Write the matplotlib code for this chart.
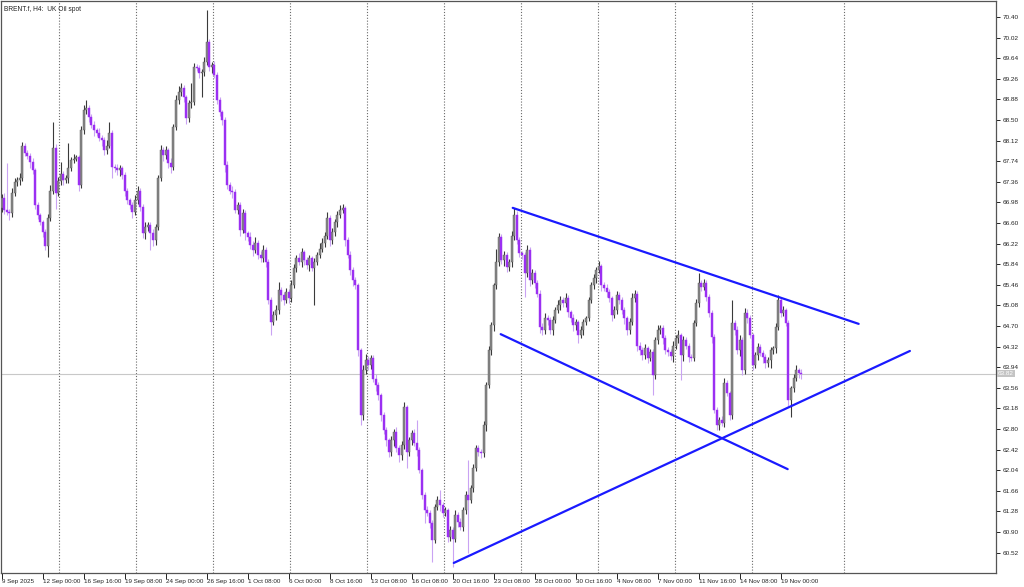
import matplotlib
matplotlib.use('Agg')
import matplotlib.pyplot as plt
import numpy as np

# ---------------- data (BRENT.f H4) ----------------
first_open = 66.87
closes = [
    67.06, 66.84, 66.80, 66.78, 67.15, 67.35, 67.39, 67.43, 68.03, 67.89,
    67.83, 67.72, 67.57, 66.93, 66.74, 66.61, 66.43, 66.17, 66.69, 67.20,
    67.99, 67.15, 67.37, 67.50, 67.39, 67.43, 67.61, 67.76, 67.79, 67.81,
    67.30, 68.31, 68.68, 68.72, 68.55, 68.40, 68.31, 68.26, 68.16, 68.13,
    67.94, 68.03, 68.26, 67.63, 67.61, 67.57, 67.61, 67.48, 67.20, 67.02,
    66.93, 66.80, 67.02, 67.20, 66.89, 66.41, 66.52, 66.56, 66.41, 66.28,
    66.52, 67.44, 67.94, 67.85, 67.94, 67.70, 67.63, 68.37, 68.87, 69.01,
    69.09, 68.92, 68.53, 68.81, 68.83, 69.47, 69.46, 69.36, 69.38, 69.57,
    69.94, 69.47, 69.51, 69.33, 68.87, 68.64, 68.50, 67.67, 67.30, 67.20,
    67.17, 66.84, 66.93, 66.47, 66.78, 66.41, 66.34, 66.19, 66.10, 66.24,
    66.01, 65.95, 66.10, 65.88, 65.18, 64.77, 64.90, 64.99, 65.36, 65.27,
    65.18, 65.32, 65.21, 65.45, 65.77, 65.95, 65.88, 66.06, 65.91, 65.82,
    65.95, 65.77, 65.88, 66.01, 66.13, 66.24, 66.37, 66.69, 66.28, 66.43,
    66.61, 66.74, 66.84, 66.87, 66.28, 66.01, 65.73, 65.54, 65.45, 64.25,
    63.05, 63.88, 64.07, 63.98, 64.11, 63.73, 63.61, 63.42, 63.05, 62.78,
    62.59, 62.37, 62.59, 62.74, 62.45, 62.32, 62.50, 63.20, 62.37, 62.59,
    62.72, 62.54, 62.41, 62.04, 61.58, 61.30, 61.26, 61.06, 60.75, 61.36,
    61.49, 61.39, 61.26, 61.30, 60.80, 60.93, 60.78, 61.21, 61.08, 60.99,
    61.30, 61.58, 61.49, 61.71, 62.08, 62.45, 62.37, 62.35, 62.87, 63.61,
    64.25, 64.71, 65.45, 65.88, 66.34, 65.91, 66.01, 65.78, 65.88, 66.37,
    66.74, 66.28, 66.04, 66.01, 65.67, 66.10, 65.54, 65.67, 65.49, 65.30,
    64.68, 64.62, 64.84, 64.81, 64.62, 64.81, 64.99, 65.08, 65.18, 65.12,
    65.21, 64.95, 64.84, 64.71, 64.77, 64.53, 64.62, 64.77, 64.84, 65.18,
    65.45, 65.58, 65.73, 65.80, 65.45, 65.40, 65.32, 65.21, 64.90, 64.99,
    65.27, 65.18, 64.99, 64.84, 64.62, 64.77, 65.21, 65.30, 64.34, 64.25,
    64.16, 64.29, 64.11, 64.22, 63.79, 64.44, 64.62, 64.66, 64.47, 64.25,
    64.22, 64.14, 64.34, 64.47, 64.53, 64.16, 64.44, 64.34, 64.12, 64.11,
    64.75, 65.12, 65.49, 65.42, 65.49, 65.23, 64.94, 64.49, 63.15, 62.87,
    62.96, 62.92, 63.64, 63.46, 63.05, 64.75, 64.62, 64.25, 64.44, 63.88,
    64.94, 64.84, 64.53, 63.98, 64.16, 64.31, 64.20, 64.12, 64.01, 64.07,
    64.25, 64.29, 64.68, 65.18, 64.94, 64.99, 64.75, 63.33, 63.55, 63.75,
    63.88, 63.83, 63.82,
]
wick_up = [
    0.08, 0.10, 0.86, 0.05, 0.10, 0.08, 0.06, 0.10, 0.06, 0.05,
    0.05, 0.06, 0.08, 0.05, 0.06, 0.05, 0.05, 0.06, 0.08, 0.10,
    0.47, 0.06, 0.08, 0.22, 0.06, 0.05, 0.46, 0.06, 0.08, 0.05,
    0.05, 0.08, 0.10, 0.15, 0.06, 0.06, 0.08, 0.05, 0.10, 0.06,
    0.06, 0.10, 0.20, 0.06, 0.05, 0.08, 0.06, 0.05, 0.06, 0.05,
    0.05, 0.06, 0.10, 0.08, 0.05, 0.06, 0.10, 0.06, 0.05, 0.08,
    0.06, 0.05, 0.10, 0.06, 0.08, 0.05, 0.10, 0.06, 0.10, 0.12,
    0.10, 0.06, 0.05, 0.06, 0.35, 0.08, 0.06, 0.05, 0.06, 0.10,
    0.59, 0.05, 0.06, 0.08, 0.05, 0.06, 0.05, 0.06, 0.08, 0.06,
    0.08, 0.05, 0.06, 0.05, 0.08, 0.06, 0.05, 0.10, 0.08, 0.10,
    0.05, 0.08, 0.10, 0.06, 0.05, 0.06, 0.08, 0.10, 0.15, 0.06,
    0.05, 0.08, 0.06, 0.10, 0.08, 0.06, 0.10, 0.08, 0.05, 0.06,
    0.06, 0.05, 0.08, 0.06, 0.10, 0.08, 0.06, 0.12, 0.06, 0.08,
    0.06, 0.08, 0.10, 0.08, 0.05, 0.06, 0.08, 0.05, 0.06, 0.05,
    0.05, 0.10, 0.12, 0.08, 0.06, 0.05, 0.08, 0.06, 0.05, 0.06,
    0.06, 0.05, 0.08, 0.06, 0.10, 0.06, 0.08, 0.09, 0.05, 0.06,
    0.06, 0.08, 0.42, 0.06, 0.05, 0.06, 0.08, 0.05, 0.06, 0.06,
    0.08, 0.18, 0.06, 0.06, 0.05, 0.08, 0.06, 0.10, 0.06, 0.08,
    0.06, 0.08, 0.65, 0.06, 0.08, 0.06, 0.05, 0.06, 0.08, 0.06,
    0.08, 0.06, 0.05, 0.25, 0.08, 0.06, 0.08, 0.06, 0.05, 0.08,
    0.13, 0.08, 0.06, 0.05, 0.06, 0.10, 0.06, 0.08, 0.06, 0.05,
    0.06, 0.08, 0.10, 0.06, 0.05, 0.08, 0.06, 0.10, 0.08, 0.06,
    0.10, 0.06, 0.05, 0.08, 0.06, 0.05, 0.08, 0.06, 0.05, 0.06,
    0.06, 0.08, 0.06, 0.10, 0.05, 0.06, 0.08, 0.06, 0.05, 0.08,
    0.08, 0.06, 0.05, 0.06, 0.05, 0.08, 0.10, 0.06, 0.05, 0.06,
    0.06, 0.08, 0.05, 0.06, 0.05, 0.06, 0.10, 0.06, 0.05, 0.06,
    0.06, 0.05, 0.08, 0.06, 0.10, 0.05, 0.08, 0.06, 0.05, 0.06,
    0.06, 0.08, 0.18, 0.06, 0.08, 0.05, 0.06, 0.05, 0.06, 0.05,
    0.06, 0.08, 0.11, 0.06, 0.05, 0.43, 0.06, 0.08, 0.10, 0.06,
    0.10, 0.08, 0.06, 0.05, 0.06, 0.08, 0.06, 0.05, 0.06, 0.05,
    0.06, 0.05, 0.08, 0.09, 0.06, 0.08, 0.05, 0.06, 0.05, 0.06,
    0.10, 0.05, 0.08,
]
wick_dn = [
    0.06, 0.08, 0.05, 0.13, 0.06, 0.05, 0.06, 0.08, 0.05, 0.06,
    0.05, 0.10, 0.06, 0.08, 0.06, 0.05, 0.08, 0.07, 0.20, 0.06,
    0.06, 0.30, 0.06, 0.06, 0.08, 0.06, 0.10, 0.05, 0.06, 0.05,
    0.10, 0.05, 0.06, 0.06, 0.08, 0.05, 0.10, 0.06, 0.05, 0.10,
    0.08, 0.06, 0.05, 0.20, 0.06, 0.08, 0.10, 0.06, 0.10, 0.06,
    0.08, 0.10, 0.05, 0.06, 0.06, 0.08, 0.10, 0.06, 0.30, 0.10,
    0.08, 0.05, 0.06, 0.10, 0.06, 0.08, 0.10, 0.05, 0.06, 0.08,
    0.06, 0.08, 0.10, 0.06, 0.08, 0.05, 0.06, 0.08, 0.44, 0.06,
    0.06, 0.06, 0.10, 0.06, 0.08, 0.06, 0.10, 0.12, 0.08, 0.06,
    0.10, 0.06, 0.08, 0.10, 0.06, 0.12, 0.08, 0.06, 0.10, 0.06,
    0.08, 0.06, 0.06, 0.10, 0.08, 0.24, 0.06, 0.08, 0.06, 0.10,
    0.10, 0.06, 0.08, 0.06, 0.05, 0.08, 0.06, 0.10, 0.08, 0.06,
    0.10, 0.06, 0.69, 0.06, 0.05, 0.06, 0.08, 0.06, 0.10, 0.06,
    0.06, 0.08, 0.05, 0.06, 0.10, 0.06, 0.08, 0.10, 0.06, 0.10,
    0.18, 0.08, 0.06, 0.10, 0.08, 0.06, 0.10, 0.08, 0.10, 0.08,
    0.10, 0.08, 0.06, 0.10, 0.08, 0.12, 0.10, 0.06, 0.29, 0.06,
    0.08, 0.06, 0.10, 0.06, 0.08, 0.24, 0.06, 0.08, 0.41, 0.06,
    0.06, 0.10, 0.08, 0.06, 0.08, 0.06, 0.53, 0.06, 0.08, 0.06,
    0.08, 0.06, 0.98, 0.06, 0.08, 0.06, 0.06, 0.08, 0.06, 0.10,
    0.06, 0.08, 0.10, 0.06, 0.08, 0.06, 0.10, 0.08, 0.06, 0.10,
    0.08, 0.06, 0.06, 0.08, 0.44, 0.06, 0.10, 0.06, 0.08, 0.06,
    0.10, 0.08, 0.06, 0.10, 0.06, 0.08, 0.06, 0.05, 0.08, 0.06,
    0.06, 0.08, 0.06, 0.10, 0.08, 0.15, 0.06, 0.08, 0.06, 0.05,
    0.05, 0.06, 0.08, 0.06, 0.10, 0.06, 0.08, 0.06, 0.10, 0.06,
    0.06, 0.08, 0.06, 0.10, 0.08, 0.06, 0.05, 0.06, 0.10, 0.08,
    0.08, 0.06, 0.10, 0.06, 0.37, 0.06, 0.08, 0.06, 0.10, 0.06,
    0.08, 0.06, 0.10, 0.06, 0.08, 0.46, 0.10, 0.06, 0.08, 0.06,
    0.06, 0.05, 0.06, 0.08, 0.06, 0.06, 0.08, 0.10, 0.06, 0.08,
    0.09, 0.06, 0.08, 0.06, 0.08, 0.06, 0.08, 0.06, 0.10, 0.08,
    0.06, 0.08, 0.06, 0.10, 0.06, 0.08, 0.06, 0.10, 0.08, 0.06,
    0.14, 0.06, 0.08, 0.06, 0.08, 0.06, 0.05, 0.10, 0.31, 0.06,
    0.06, 0.08, 0.10,
]

time_labels = ['9 Sep 2025', '12 Sep 00:00', '16 Sep 16:00', '19 Sep 08:00',
               '24 Sep 00:00', '26 Sep 16:00', '1 Oct 08:00', '6 Oct 00:00',
               '8 Oct 16:00', '13 Oct 08:00', '16 Oct 08:00', '20 Oct 16:00',
               '23 Oct 08:00', '28 Oct 00:00', '30 Oct 16:00', '4 Nov 08:00',
               '7 Nov 00:00', '11 Nov 16:00', '14 Nov 08:00', '19 Nov 00:00']
time_label_bars = [0, 16, 32, 48, 64, 80, 96, 112, 128, 144, 160, 176, 192,
                   208, 224, 240, 256, 272, 288, 304]
grid_bars = [22.2, 52.3, 82.3, 112.4, 142.4, 172.5, 202.5, 232.6, 262.6, 292.7, 328.6]
price_ticks = [60.52, 60.90, 61.28, 61.66, 62.04, 62.42, 62.80, 63.18, 63.56,
               63.94, 64.32, 64.70, 65.08, 65.46, 65.84, 66.22, 66.60, 66.98,
               67.36, 67.74, 68.12, 68.50, 68.88, 69.26, 69.64, 70.02, 70.40]
last_price = 63.82

# trend lines (bar index, price)
upper_line_x, upper_line_y = [199.4, 334.4], [66.88, 64.74]
lower_line_x, lower_line_y = [194.7, 306.7], [64.55, 62.06]
support_line_x, support_line_y = [176.4, 354.4], [60.33, 64.24]

title_text = 'BRENT.f, H4:  UK Oil spot'

# ---------------- drawing ----------------
plt.rcParams['font.family'] = ['Liberation Sans', 'DejaVu Sans']
fig = plt.figure(figsize=(10.24, 5.87), dpi=100)
ax = fig.add_axes([1/1024, 14/587, 995/1024, 572/587])

closes_a = np.array(closes)
opens_a = np.concatenate([[first_open], closes_a[:-1]])
idx = np.arange(len(closes_a))
top = np.maximum(opens_a, closes_a)
bot = np.minimum(opens_a, closes_a)
highs = top + np.array(wick_up)
lows = bot - np.array(wick_dn)
bull = closes_a >= opens_a

BULL_BODY, BULL_WICK = '#8a8a8a', '#3a3a3a'
BEAR_BODY, BEAR_WICK = '#9b2ff2', '#c9a3f3'

for g in grid_bars:
    ax.axvline(g, color='#6a6a6a', lw=0.8, ls=(0, (1, 1.6)), zorder=1)

ax.axhline(last_price, color='#c8c8c8', lw=0.8, zorder=1)

ax.vlines(idx[bull], lows[bull], highs[bull], color=BULL_WICK, lw=0.8, zorder=2)
ax.vlines(idx[~bull], lows[~bull], highs[~bull], color=BEAR_WICK, lw=0.8, zorder=2)
h = np.maximum(top - bot, 0.012)
ax.bar(idx[bull], h[bull], bottom=bot[bull], width=0.78, color=BULL_BODY,
       edgecolor='#555555', linewidth=0.3, zorder=3)
ax.bar(idx[~bull], h[~bull], bottom=bot[~bull], width=0.78, color=BEAR_BODY,
       edgecolor=BEAR_BODY, linewidth=0.3, zorder=3)

for lx, ly in [(upper_line_x, upper_line_y), (lower_line_x, lower_line_y),
               (support_line_x, support_line_y)]:
    ax.plot(lx, ly, color='#1a1aff', lw=1.6, zorder=4, solid_capstyle='round')

ax.set_xlim(-0.3, 388.0)
ax.set_ylim(60.144, 70.696)

ax.yaxis.tick_right()
ax.set_yticks(price_ticks)
ax.set_yticklabels([f'{p:.2f}' for p in price_ticks])
ax.tick_params(axis='y', which='both', direction='out', length=3, width=0.7,
               labelsize=4.6, pad=1.5, colors='#222222')
ax.set_xticks(time_label_bars)
ax.set_xticklabels(time_labels)
ax.tick_params(axis='x', direction='out', length=4, width=0.7, labelsize=4.5,
               pad=0.5, colors='#222222')
for lab in ax.get_xticklabels():
    lab.set_ha('left')

for s in ax.spines.values():
    s.set_color('#555555')
    s.set_linewidth(0.9)

ax.text(1.002, last_price, f'{last_price:.2f}', transform=ax.get_yaxis_transform(),
        fontsize=4.6, color='white', va='center', ha='left',
        bbox=dict(boxstyle='square,pad=0.15', fc='#c4c4c4', ec='none'), zorder=6,
        clip_on=False)

ax.text(0.003, 0.992, title_text, transform=ax.transAxes, fontsize=4.8,
        color='#222222', va='top', ha='left')

fig.savefig('out.png', dpi=100)
